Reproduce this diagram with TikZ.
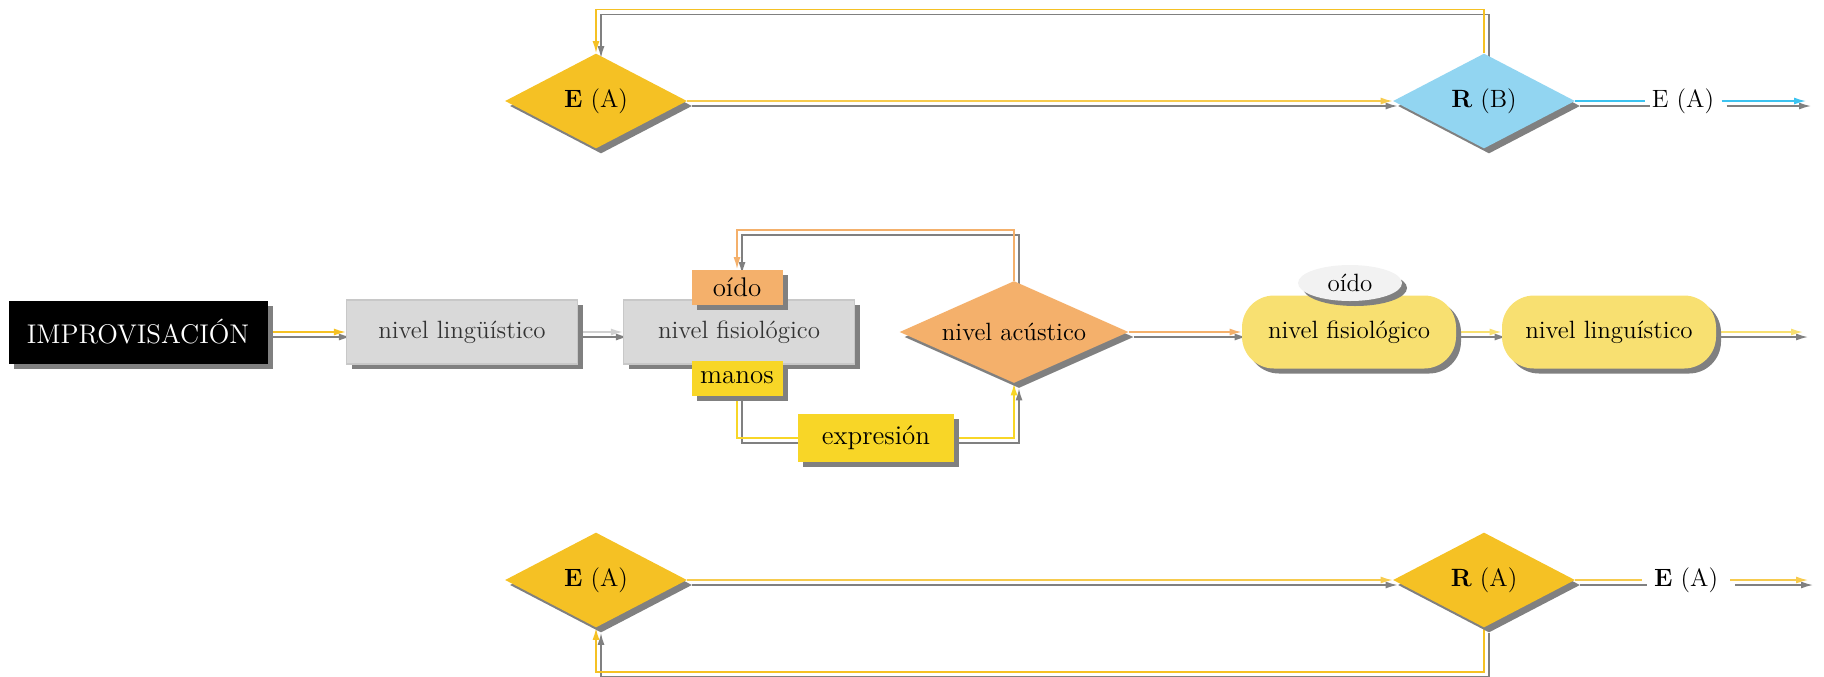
\documentclass[tikz,border=0pt]{standalone}
\usepackage{fontspec}
\usetikzlibrary{shapes.geometric,shapes.misc,shadows,arrows.meta,backgrounds,calc}

\definecolor{cGold}{HTML}{F5C124}
\definecolor{cGoldL}{HTML}{F7CB4D}
\definecolor{cBlue}{HTML}{92D5F1}
\definecolor{cCyan}{HTML}{3CC3F0}
\definecolor{cShadow}{HTML}{808080}
\definecolor{cGrayBox}{HTML}{D9D9D9}
\definecolor{cGrayBorder}{HTML}{C8C8C8}
\definecolor{cGrayLine}{HTML}{D0D0D0}
\definecolor{cOrange}{HTML}{F4B06B}
\definecolor{cYellow}{HTML}{F8D627}
\definecolor{cPale}{HTML}{F8E071}
\definecolor{cEar}{HTML}{F2F2F2}
\definecolor{cText}{HTML}{333333}

\newcommand{\twin}[2]{%
  \draw[#1, color=cShadow, transform canvas={shift={(2.5pt,-2.5pt)}}] #2;
  \draw[#1] #2;}

\tikzset{
  shade/.style={drop shadow={shadow xshift=2.5pt, shadow yshift=-2.5pt, fill=cShadow, opacity=1}},
  box/.style={rectangle, shade, inner sep=0pt, font=\fontsize{12.5}{15}\selectfont},
  smallbox/.style={rectangle, shade, inner sep=0pt, font=\fontsize{13.5}{16}\selectfont,
    minimum width=45.5pt, minimum height=17.5pt},
  graybox/.style={box, fill=cGrayBox, draw=cGrayBorder, line width=0.6pt, text=cText,
    minimum width=115.5pt, minimum height=32pt},
  pill/.style={rectangle, rounded corners=16pt, shade, fill=cPale, inner sep=0pt,
    font=\fontsize{12.5}{15}\selectfont, minimum width=107pt, minimum height=36.5pt},
  dia/.style={diamond, aspect=1.9, shade, inner sep=0pt, font=\fontsize{12.5}{15}\selectfont,
    minimum width=91pt, minimum height=47.5pt},
  label/.style={inner xsep=3.5pt, inner ysep=2pt, font=\fontsize{12.5}{15}\selectfont},
  conn/.style={line width=0.75pt, -{Latex[length=6pt,width=3.5pt]}},
  plainline/.style={line width=0.75pt},
}

\begin{document}
\begin{tikzpicture}[x=0.5pt, y=-0.5pt]
\useasboundingbox (0,0) rectangle (1824,676);

% ---------- top row ----------
\node[dia, fill=cGold] (EA1) at (596,101) {\textbf{E} (A)};
\node[dia, fill=cBlue] (RB) at (1484,101) {\textbf{R} (B)};
\node[label] (EAt) at (1683,101) {E (A)};
\coordinate (endT) at (1806,101);
\coordinate (topy) at (0,9.5);

% ---------- middle row ----------
\node[box, fill=black, text=white, font=\fontsize{13.5}{16}\selectfont,
      minimum width=129.5pt, minimum height=31.5pt] (IMP) at (138,332) {IMPROVISACIÓN};
\node[graybox] (ling1) at (462,332) {nivel lingüístico};
\node[graybox] (fis1) at (739,332) {nivel fisiológico};
\node[smallbox, fill=cOrange] (oido1) at (737,287) {oído};
\node[smallbox, fill=cYellow] (manos) at (737,378) {manos};
\node[smallbox, fill=cYellow, minimum width=78pt, minimum height=24pt] (expr) at (876,438) {expresión};
\node[dia, aspect=2.25, fill=cOrange, minimum width=114.5pt, minimum height=51pt] (acu) at (1014,332) {nivel acústico};
\node[pill] (fis2) at (1349,332) {nivel fisiológico};
\node[ellipse, shade, fill=cEar, inner sep=0pt, minimum width=52pt, minimum height=18pt,
      font=\fontsize{12.5}{15}\selectfont] (oido2) at (1350,283) {oído};
\node[pill] (ling2) at (1609,332) {nivel linguístico};
\coordinate (endM) at (1803,332);
\coordinate (loopy) at (0,230);
\coordinate (handy) at (0,438);

% ---------- bottom row ----------
\node[dia, fill=cGold] (EA2) at (596,580) {\textbf{E} (A)};
\node[dia, fill=cGold] (RA) at (1484,580) {\textbf{R} (A)};
\node[label, inner xsep=6pt] (EAb) at (1686,580) {\textbf{E} (A)};
\coordinate (endB) at (1808,580);
\coordinate (boty) at (0,672);

% ---------- connectors ----------
\begin{scope}[on background layer]
  % top
  \twin{conn, draw=cGoldL}{(EA1.east) -- (RB.west)}
  \twin{conn, draw=cGold}{(RB.north) -- (RB.north |- topy) -- (EA1.north |- topy) -- (EA1.north)}
  \twin{plainline, draw=cCyan}{(RB.east) -- (RB.east -| EAt.west)}
  \twin{conn, draw=cCyan}{(RB.east -| EAt.east) -- (endT)}
  % middle
  \twin{conn, draw=cGold}{(IMP.east) -- (ling1.west)}
  \twin{conn, draw=cGrayLine}{(ling1.east) -- (fis1.west)}
  \twin{conn, draw=cOrange}{(acu.north) -- (acu.north |- loopy) -- (oido1.north |- loopy) -- (oido1.north)}
  \twin{conn, draw=cYellow}{(manos.south) -- (manos.south |- handy) -- (acu.south |- handy) -- (acu.south)}
  \twin{conn, draw=cOrange}{(acu.east) -- (fis2.west)}
  \twin{conn, draw=cPale}{(fis2.east) -- (ling2.west)}
  \twin{conn, draw=cPale}{(ling2.east) -- (endM)}
  % bottom
  \twin{conn, draw=cGoldL}{(EA2.east) -- (RA.west)}
  \twin{conn, draw=cGold}{(RA.south) -- (RA.south |- boty) -- (EA2.south |- boty) -- (EA2.south)}
  \twin{plainline, draw=cGoldL}{(RA.east) -- (RA.east -| EAb.west)}
  \twin{conn, draw=cGoldL}{(RA.east -| EAb.east) -- (endB)}
\end{scope}
\end{tikzpicture}
\end{document}
